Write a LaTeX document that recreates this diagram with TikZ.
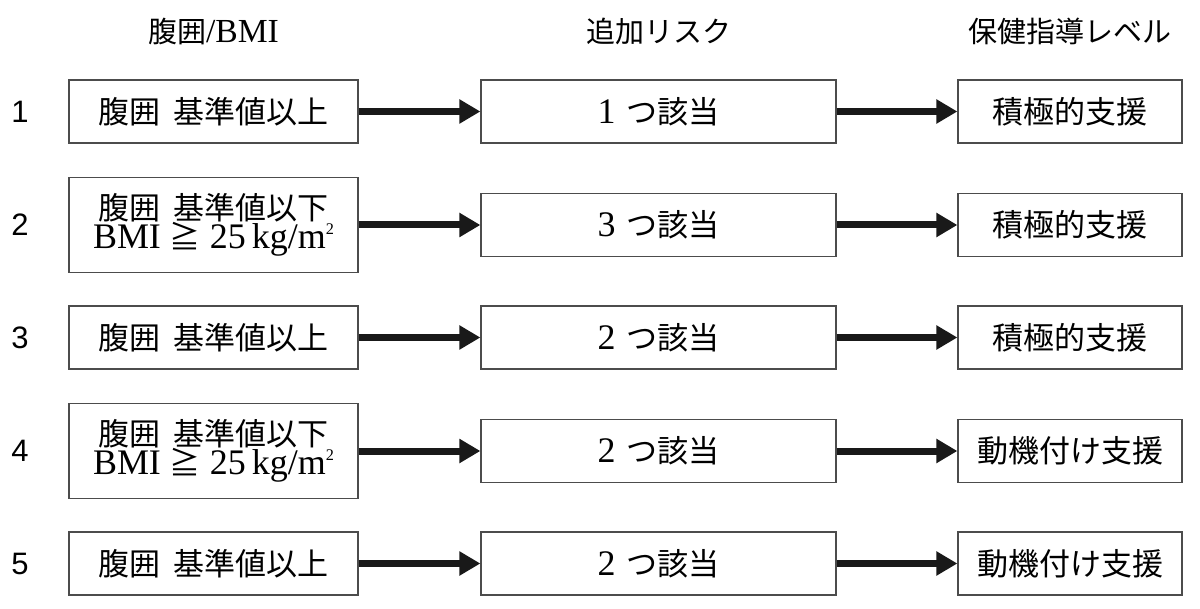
\documentclass[tikz,border=0pt]{standalone}
\usepackage{fontspec}
\setmainfont{Liberation Serif}[Scale=1.16]
\newfontfamily\jp{Noto Sans CJK JP}
\newfontfamily\numfont{Liberation Sans}
\usetikzlibrary{arrows.meta}
\newcommand{\sqm}{m\raisebox{0.4em}{\fontsize{7}{7}\selectfont 2}}
\tikzset{
  box/.style={draw=black!70,line width=0.6pt,fill=white,align=center,font=\fontsize{15.5}{14.5}\selectfont,minimum height=31.5pt,inner sep=0pt},
  leftbox/.style={box,minimum width=144.5pt},
  twoline/.style={leftbox,minimum height=47.5pt},
  midbox/.style={box,minimum width=177.5pt},
  rightbox/.style={box,minimum width=112pt},
  head/.style={font=\fontsize{14.5}{14.5}\selectfont},
  rownum/.style={font=\fontsize{15.5}{15.5}\selectfont\numfont},
  flow/.style={-{Triangle[length=10.5pt,width=11.5pt]},line width=3.5pt,draw=black!90}
}
\begin{document}
\begin{tikzpicture}[x=0.5pt,y=-0.5pt]
  \useasboundingbox (0,0) rectangle (1200,609);
  % column heads
  \node[head] (hl) at (213.5,31) {{\jp 腹囲}/BMI};
  \node[head] (hm) at (658.5,31) {\jp 追加リスク};
  \node[head] (hr) at (1070,31) {\jp 保健指導レベル};
  % row numbers
  \node[rownum] (n1) at (20,111.5) {1};
  \node[rownum] (n2) at (20,225) {2};
  \node[rownum] (n3) at (20,337.5) {3};
  \node[rownum] (n4) at (20,451) {4};
  \node[rownum] (n5) at (20,563.5) {5};
  % waist / BMI
  \node[leftbox] (l1) at (213.5,111.5) {\jp 腹囲\hspace{0.45em}基準値以上};
  \node[twoline] (l2) at (213.5,225) {{\jp 腹囲\hspace{0.45em}基準値以下}\\BMI {\jp ≧} 25\,kg/\sqm};
  \node[leftbox] (l3) at (213.5,337.5) {\jp 腹囲\hspace{0.45em}基準値以上};
  \node[twoline] (l4) at (213.5,451) {{\jp 腹囲\hspace{0.45em}基準値以下}\\BMI {\jp ≧} 25\,kg/\sqm};
  \node[leftbox] (l5) at (213.5,563.5) {\jp 腹囲\hspace{0.45em}基準値以上};
  % risks
  \node[midbox] (m1) at (658.5,111.5) {1\hspace{0.3em}{\jp つ該当}};
  \node[midbox] (m2) at (658.5,225) {3\hspace{0.3em}{\jp つ該当}};
  \node[midbox] (m3) at (658.5,337.5) {2\hspace{0.3em}{\jp つ該当}};
  \node[midbox] (m4) at (658.5,451) {2\hspace{0.3em}{\jp つ該当}};
  \node[midbox] (m5) at (658.5,563.5) {2\hspace{0.3em}{\jp つ該当}};
  % guidance level
  \node[rightbox] (r1) at (1070,111.5) {\jp 積極的支援};
  \node[rightbox] (r2) at (1070,225) {\jp 積極的支援};
  \node[rightbox] (r3) at (1070,337.5) {\jp 積極的支援};
  \node[rightbox] (r4) at (1070,451) {\jp 動機付け支援};
  \node[rightbox] (r5) at (1070,563.5) {\jp 動機付け支援};
  \draw[flow] (l1) -- (m1); \draw[flow] (m1) -- (r1);
  \draw[flow] (l2) -- (m2); \draw[flow] (m2) -- (r2);
  \draw[flow] (l3) -- (m3); \draw[flow] (m3) -- (r3);
  \draw[flow] (l4) -- (m4); \draw[flow] (m4) -- (r4);
  \draw[flow] (l5) -- (m5); \draw[flow] (m5) -- (r5);
\end{tikzpicture}
\end{document}
